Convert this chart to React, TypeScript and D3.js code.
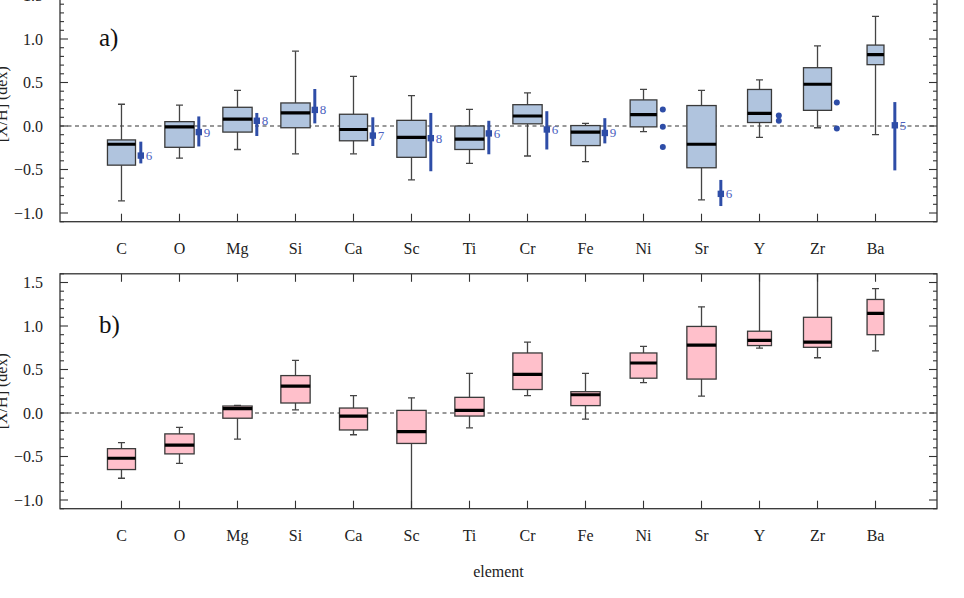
import React from "react";
import * as d3 from "d3";

const elements = ["C", "O", "Mg", "Si", "Ca", "Sc", "Ti", "Cr", "Fe", "Ni", "Sr", "Y", "Zr", "Ba"];
const nStars = [11, 12, 12, 12, 11, 12, 12, 12, 12, 10, 12, 8, 11, 4];

// panel a) : [whisker low, q1, median, q3, whisker high]
const lowA = [-0.86, -0.37, -0.27, -0.32, -0.32, -0.62, -0.43, -0.345, -0.41, -0.065, -0.85, -0.13, -0.02, -0.1];
const q1A = [-0.45, -0.245, -0.07, -0.02, -0.17, -0.36, -0.27, 0.025, -0.225, -0.01, -0.48, 0.04, 0.18, 0.705];
const medA = [-0.21, -0.01, 0.08, 0.15, -0.04, -0.13, -0.15, 0.115, -0.07, 0.13, -0.21, 0.145, 0.48, 0.82];
const q3A = [-0.16, 0.05, 0.215, 0.265, 0.135, 0.065, 0.0, 0.245, 0.005, 0.3, 0.235, 0.42, 0.67, 0.93];
const highA = [0.25, 0.24, 0.41, 0.86, 0.57, 0.35, 0.19, 0.38, 0.03, 0.42, 0.41, 0.53, 0.92, 1.26];

// panel b)
const lowB = [-0.75, -0.58, -0.3, 0.035, -0.25, -1.3, -0.17, 0.2, -0.07, 0.35, 0.195, 0.745, 0.635, 0.715];
const q1B = [-0.65, -0.47, -0.06, 0.115, -0.195, -0.35, -0.035, 0.27, 0.085, 0.4, 0.39, 0.775, 0.755, 0.9];
const medB = [-0.52, -0.37, 0.05, 0.31, -0.035, -0.215, 0.03, 0.445, 0.21, 0.575, 0.78, 0.835, 0.815, 1.145];
const q3B = [-0.41, -0.24, 0.08, 0.43, 0.057, 0.03, 0.18, 0.69, 0.245, 0.69, 0.995, 0.94, 1.1, 1.305];
const highB = [-0.34, -0.165, 0.087, 0.605, 0.2, 0.175, 0.455, 0.815, 0.455, 0.765, 1.22, 1.9, 1.9, 1.43];

// literature comparison (panel a)
const litElements = ["C", "O", "Mg", "Si", "Ca", "Sc", "Ti", "Cr", "Fe", "Sr", "Ba"];
const litMean = [-0.34, -0.07, 0.06, 0.185, -0.11, -0.14, -0.085, -0.04, -0.08, -0.78, 0.008];
const litLow = [-0.43, -0.235, -0.115, 0.03, -0.23, -0.52, -0.325, -0.27, -0.2, -0.92, -0.51];
const litHigh = [-0.18, 0.11, 0.15, 0.425, 0.1, 0.15, 0.06, 0.17, 0.09, -0.62, 0.275];
const litN = [6, 9, 8, 8, 7, 8, 6, 6, 9, 6, 5];

// individual literature points
const dotElements = ["Ni", "Ni", "Ni", "Y", "Y", "Zr", "Zr"];
const dotValues = [0.19, -0.01, -0.24, 0.12, 0.06, 0.27, -0.03];

const yTicks = [-1.0, -0.5, 0.0, 0.5, 1.0, 1.5];

const FONT = "'Liberation Serif', 'Times New Roman', serif";
const LEFT = 60;
const RIGHT = 937;
const PX_PER_UNIT = 87;
const maxN = d3.max(nStars) as number;

const x = d3.scaleLinear().domain([-0.06, 15.06]).range([LEFT, RIGHT]);

type PanelProps = {
  id: string;
  bottom: number;
  low: number[];
  q1: number[];
  med: number[];
  q3: number[];
  high: number[];
  fill: string;
  label: string;
  lit: boolean;
};

function Panel({ id, bottom, low, q1, med, q3, high, fill, label, lit }: PanelProps) {
  const y = d3.scaleLinear().domain([-1.1, 1.6]).range([bottom, bottom - 2.7 * PX_PER_UNIT]);
  const top = y(1.6);
  const minor = d3.range(-11, 17).map((v) => v / 10);
  const boxW = (i: number) => 0.505 * Math.sqrt(nStars[i] / maxN);
  const offset = 0.333;
  const blue = "#2E4DA7";
  return (
    <g>
      <defs>
        <clipPath id={id}>
          <rect x={LEFT} y={top} width={RIGHT - LEFT} height={bottom - top} />
        </clipPath>
      </defs>
      {/* zero line */}
      <line x1={LEFT} x2={RIGHT} y1={y(0)} y2={y(0)} stroke="#333" strokeWidth={1.2} strokeDasharray="4,3.5" />
      <g clipPath={`url(#${id})`}>
        {elements.map((el, i) => {
          const cx = x(i + 1);
          const hw = ((x(boxW(i)) - x(0)) / 2);
          const cap = 3.5;
          return (
            <g key={el}>
              <line x1={cx} x2={cx} y1={y(q3[i])} y2={y(high[i])} stroke="#444" strokeWidth={1.3} />
              <line x1={cx} x2={cx} y1={y(q1[i])} y2={y(low[i])} stroke="#444" strokeWidth={1.3} />
              <line x1={cx - cap} x2={cx + cap} y1={y(high[i])} y2={y(high[i])} stroke="#444" strokeWidth={1.3} />
              <line x1={cx - cap} x2={cx + cap} y1={y(low[i])} y2={y(low[i])} stroke="#444" strokeWidth={1.3} />
              <rect x={cx - hw} y={y(q3[i])} width={2 * hw} height={y(q1[i]) - y(q3[i])} fill={fill} stroke="#3a3a3a" strokeWidth={1.3} />
              <line x1={cx - hw} x2={cx + hw} y1={y(med[i])} y2={y(med[i])} stroke="#000" strokeWidth={3.2} />
            </g>
          );
        })}
      </g>
      {lit &&
        litElements.map((el, k) => {
          const i = elements.indexOf(el);
          const lx = x(i + 1 + offset);
          return (
            <g key={"lit" + el}>
              <line x1={lx} x2={lx} y1={y(litLow[k])} y2={y(litHigh[k])} stroke={blue} strokeWidth={3} />
              <rect x={lx - 3.2} y={y(litMean[k]) - 3.2} width={6.4} height={6.4} fill={blue} />
              <text x={lx + 5} y={y(litMean[k])} dominantBaseline="central" fontFamily={FONT} fontSize={13} fill="#4A60BE">
                {litN[k]}
              </text>
            </g>
          );
        })}
      {lit &&
        dotElements.map((el, k) => {
          const i = elements.indexOf(el);
          return <circle key={"dot" + k} cx={x(i + 1 + offset)} cy={y(dotValues[k])} r={3} fill={blue} />;
        })}
      {/* frame */}
      <rect x={LEFT} y={top} width={RIGHT - LEFT} height={bottom - top} fill="none" stroke="#333" strokeWidth={1.3} />
      {/* y ticks */}
      {minor.map((v) => {
        const isMajor = Math.abs(v * 2 - Math.round(v * 2)) < 1e-6;
        const len = isMajor ? 8 : 4;
        return (
          <g key={"t" + v}>
            <line x1={LEFT} x2={LEFT + len} y1={y(v)} y2={y(v)} stroke="#333" strokeWidth={1.1} />
            <line x1={RIGHT} x2={RIGHT - len} y1={y(v)} y2={y(v)} stroke="#333" strokeWidth={1.1} />
          </g>
        );
      })}
      {yTicks.map((v) => (
        <text key={"l" + v} x={43} y={y(v)} textAnchor="end" dominantBaseline="central" fontFamily={FONT} fontSize={16} fill="#222">
          {v.toFixed(1).replace("-", "\u2212")}
        </text>
      ))}
      {/* x ticks */}
      {elements.map((el, i) => (
        <g key={"x" + el}>
          <line x1={x(i + 1)} x2={x(i + 1)} y1={bottom} y2={bottom - 8} stroke="#333" strokeWidth={1.1} />
          <line x1={x(i + 1)} x2={x(i + 1)} y1={top} y2={top + 8} stroke="#333" strokeWidth={1.1} />
          <text x={x(i + 1)} y={bottom + 32} textAnchor="middle" fontFamily={FONT} fontSize={16} fill="#222">
            {el}
          </text>
        </g>
      ))}
      <text x={LEFT + 39} y={y(0.92)} fontFamily={FONT} fontSize={25} fill="#111">
        {label}
      </text>
      <text
        transform={`translate(7, ${(top + bottom) / 2}) rotate(-90)`}
        textAnchor="middle"
        fontFamily={FONT}
        fontSize={16}
        fill="#222"
      >
        [X/H] (dex)
      </text>
    </g>
  );
}

export default function App() {
  return (
    <svg width={964} height={598} style={{ position: "absolute", left: 0, top: 0, background: "#fff" }}>
      <rect x={0} y={0} width={964} height={598} fill="#fff" />
      <Panel id="clipA" bottom={221.7} low={lowA} q1={q1A} med={medA} q3={q3A} high={highA} fill="#B0C4DE" label="a)" lit={true} />
      <Panel id="clipB" bottom={508.7} low={lowB} q1={q1B} med={medB} q3={q3B} high={highB} fill="#FFC0CB" label="b)" lit={false} />
      <text x={(LEFT + RIGHT) / 2} y={577} textAnchor="middle" fontFamily={FONT} fontSize={16} fill="#222">
        element
      </text>
    </svg>
  );
}
